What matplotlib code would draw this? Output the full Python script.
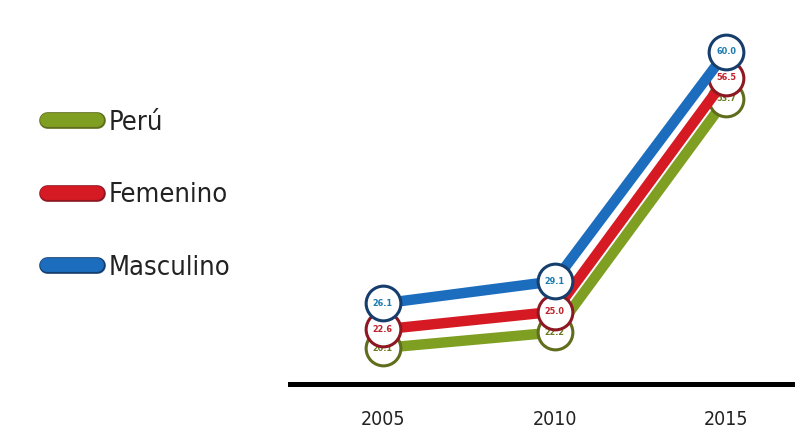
import matplotlib
matplotlib.use("Agg")
import matplotlib.pyplot as plt
from matplotlib.lines import Line2D
import matplotlib.patheffects as pe

years = [2005, 2010, 2015]
peru = [20.1, 22.2, 53.7]
femenino = [22.6, 25.0, 56.5]
masculino = [26.1, 29.1, 60.0]
series_names = ["Perú", "Femenino", "Masculino"]
line_colors = ["#7f9f22", "#d51a24", "#1c6dbd"]
edge_colors = ["#5f6d1c", "#8e1822", "#163e6c"]
text_colors = ["#6a7a20", "#c0202a", "#1a7ab0"]

plt.rcParams['font.family'] = ['DejaVu Sans']

fig = plt.figure(figsize=(7.95, 4.46), dpi=100)
ax = fig.add_axes([290/795, 62/446, 505/795, 364/446])

for vals, lc, ec, tc, z in zip([peru, femenino, masculino], line_colors, edge_colors, text_colors, [2, 3, 4]):
    ax.plot(years, vals, color=lc, lw=7.5, solid_capstyle='butt', zorder=z,
            marker='o', markersize=25, markerfacecolor='white',
            markeredgecolor=ec, markeredgewidth=2.2)
    for x, v in zip(years, vals):
        ax.text(x, v, f"{v:.1f}", ha='center', va='center', fontsize=6.5,
                fontweight='bold', color=tc, zorder=z + 0.5, fontstretch='condensed')

ax.set_xlim(2002.3, 2017.0)
ax.set_ylim(15.25, 64.3)
ax.set_xticks(years)
ax.set_xticklabels([str(y) for y in years], fontsize=14, fontstretch='condensed', color='#222222')
ax.tick_params(axis='x', length=0, pad=19)
ax.set_yticks([])
for s in ['top', 'right', 'left']:
    ax.spines[s].set_visible(False)
ax.spines['bottom'].set_linewidth(3.6)
ax.spines['bottom'].set_color('black')

handles = []
for lc, ec in zip(line_colors, edge_colors):
    h = Line2D([0], [0], color=lc, lw=10, solid_capstyle='round',
               path_effects=[pe.Stroke(linewidth=12, foreground=ec), pe.Normal()])
    handles.append(h)
leg = fig.legend(handles, series_names, loc='upper left', bbox_to_anchor=(33/795, 1 - 96/446),
                 frameon=False, handlelength=1.85, handletextpad=0.45,
                 labelspacing=1.72, borderpad=0, prop={'size': 19.5, 'stretch': 'condensed'})
for t in leg.get_texts():
    t.set_color('#222222')

fig.savefig("out.png", dpi=100)
